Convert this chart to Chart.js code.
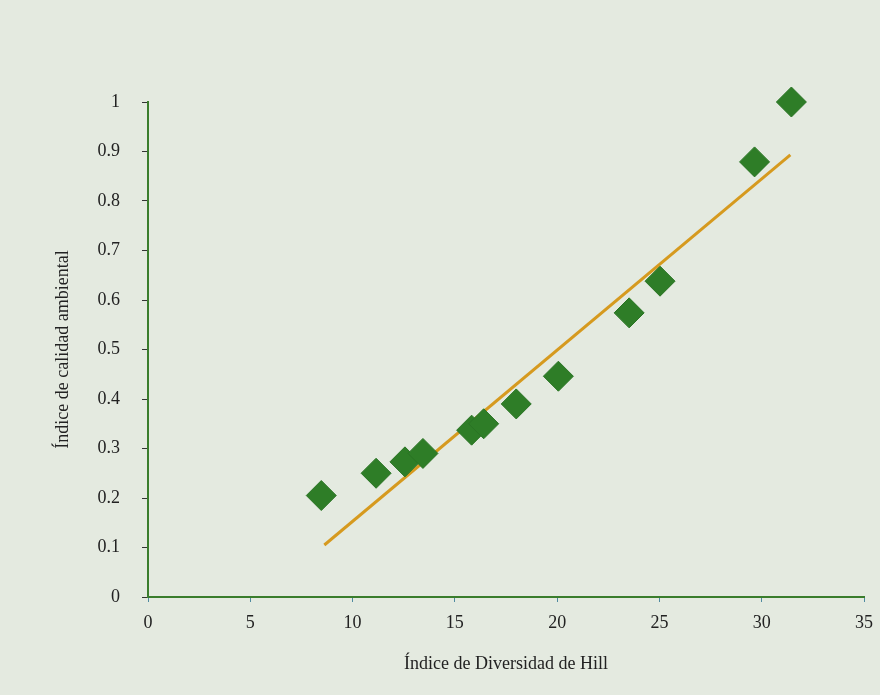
<!DOCTYPE html>
<html>
<head>
<meta charset="utf-8">
<script src="https://cdn.jsdelivr.net/npm/chart.js@4/dist/chart.umd.min.js"></script>
<style>
    html, body { margin: 0; padding: 0; background: #e4eae0; }
    #wrap { width: 880px; height: 695px; }
</style>
</head>
<body>
<div id="wrap"><canvas id="myChart" width="880" height="695"></canvas></div>
<script>
// Hill diversity index (x) vs environmental quality index (y)
const hillIndex = [8.47, 11.15, 12.56, 13.44, 15.82, 16.41, 18.0, 20.06, 23.52, 25.03, 29.65, 31.45];
const qualityIndex = [0.205, 0.25, 0.273, 0.29, 0.337, 0.35, 0.39, 0.446, 0.574, 0.638, 0.879, 1.0];

// trend line end points
const trendX = [8.62, 31.4];
const trendY = [0.105, 0.893];

const xTicks = [0, 5, 10, 15, 20, 25, 30, 35];
const yTicks = [0, 0.1, 0.2, 0.3, 0.4, 0.5, 0.6, 0.7, 0.8, 0.9, 1];

const axisGreen = '#3a7d2c';
const tickFont = { family: 'Liberation Serif', size: 18 };

const points = hillIndex.map((x, i) => ({ x: x, y: qualityIndex[i] }));
const trend = trendX.map((x, i) => ({ x: x, y: trendY[i] }));

const ctx = document.getElementById('myChart').getContext('2d');
const myChart = new Chart(ctx, {
    type: 'scatter',
    data: {
        datasets: [{
            label: 'Índice de calidad ambiental',
            data: points,
            order: 0,
            pointStyle: 'rectRot',
            pointRadius: 15,
            pointHoverRadius: 15,
            backgroundColor: '#2e7d27',
            borderColor: '#2a7424',
            borderWidth: 1
        }, {
            label: 'Tendencia',
            type: 'line',
            data: trend,
            order: 1,
            borderColor: '#d69a1f',
            borderWidth: 3,
            pointRadius: 0,
            fill: false
        }]
    },
    options: {
        responsive: false,
        animation: false,
        clip: false,
        layout: { padding: { left: 0, top: 102, right: 10, bottom: 0 } },
        plugins: {
            legend: { display: false },
            tooltip: { enabled: false }
        },
        scales: {
            x: {
                type: 'linear',
                min: 0,
                max: 35,
                afterFit: function (scale) {
                    scale.height = 98;
                    scale.paddingLeft = 0;
                    scale.paddingRight = 0;
                },
                afterBuildTicks: function (scale) {
                    scale.ticks = xTicks.map(v => ({ value: v }));
                },
                border: { color: axisGreen, width: 2 },
                grid: { drawOnChartArea: false, drawTicks: true, tickLength: 5, color: '#4f8aa0' },
                ticks: { font: tickFont, color: '#222', padding: 10, maxRotation: 0 },
                title: {
                    display: true,
                    text: 'Índice de Diversidad de Hill',
                    font: tickFont,
                    color: '#222',
                    padding: { top: 0, bottom: 20 }
                }
            },
            y: {
                type: 'linear',
                min: 0,
                max: 1,
                afterFit: function (scale) { scale.width = 148; },
                afterBuildTicks: function (scale) {
                    scale.ticks = yTicks.map(v => ({ value: v }));
                },
                border: { color: axisGreen, width: 2 },
                grid: { drawOnChartArea: false, drawTicks: true, tickLength: 6, color: '#333' },
                ticks: {
                    font: tickFont,
                    color: '#222',
                    padding: 22,
                    callback: v => String(v)
                },
                title: {
                    display: true,
                    text: 'Índice de calidad ambiental',
                    font: tickFont,
                    color: '#222',
                    padding: { top: 52, bottom: 0 }
                }
            }
        }
    }
});
</script>
</body>
</html>
